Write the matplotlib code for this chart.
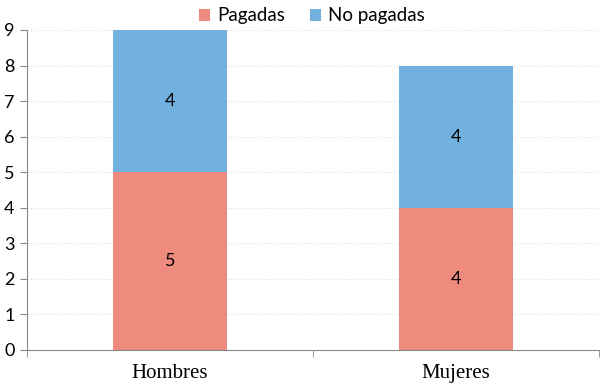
import matplotlib.pyplot as plt
import numpy as np

categorias = ["Hombres", "Mujeres"]
pagadas = [5, 4]
no_pagadas = [4, 4]
yticks = [0, 1, 2, 3, 4, 5, 6, 7, 8, 9]

rojo = "#EE8A7E"
azul = "#72B0DF"

fig = plt.figure(figsize=(6, 3.84), dpi=100)
ax = fig.add_axes([27 / 600, 1 - 350 / 384, 572 / 600, 320 / 384])

x = np.arange(len(categorias))
b1 = ax.bar(x, pagadas, width=0.4, color=rojo, label="Pagadas", zorder=2)
b2 = ax.bar(x, no_pagadas, width=0.4, bottom=pagadas, color=azul, label="No pagadas", zorder=2)

for bars in (b1, b2):
    for r in bars:
        ax.text(r.get_x() + r.get_width() / 2, r.get_y() + r.get_height() / 2,
                f"{int(r.get_height())}", ha="center", va="center",
                fontsize=13, family="Lato", color="black", zorder=3)

ax.set_xlim(-0.5, len(categorias) - 0.5)
ax.set_ylim(0, 9)
ax.set_yticks(yticks)
ax.set_yticklabels([str(v) for v in yticks], family="Lato", fontsize=13)
ax.set_xticks(x)
ax.set_xticklabels(categorias, family="Liberation Serif", fontsize=15)
ax.set_xticks([-0.5, 0.5, 1.5], minor=True)
ax.tick_params(axis="x", which="major", length=0, pad=10)
ax.tick_params(axis="x", which="minor", length=5, color="#888888")
ax.tick_params(axis="y", length=5, color="#888888", pad=4)

ax.grid(axis="y", linestyle=(0, (1, 2)), color="#dddddd", linewidth=0.8, zorder=0)
for s in ("top", "right"):
    ax.spines[s].set_visible(False)
for s in ("left", "bottom"):
    ax.spines[s].set_color("#888888")

fig.legend(handles=[b1, b2], loc="upper center", bbox_to_anchor=(0.52, 1.025), ncol=2,
           frameon=False, prop={"family": "Lato", "size": 13.5}, handlelength=0.6,
           handleheight=0.6, handletextpad=0.4, columnspacing=1.3)

fig.savefig("out.png", dpi=100)
